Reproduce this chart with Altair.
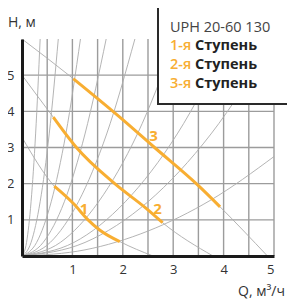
import altair as alt
import pandas as pd

ORANGE = "#F8AE32"
GRID = "#9c9c9c"
CURVE = "#ababab"
FONT = "Open Sans"

# grid / ticks
q_grid = [0.5, 1, 1.5, 2, 2.5, 3, 3.5, 4, 4.5, 5]
h_grid = [1, 2, 3, 4, 5]
x_ticks = [1, 2, 3, 4, 5]
y_ticks = [1, 2, 3, 4, 5]

# gray system curves (from origin)
sys_q = [
    [0, 0.09, 0.18, 0.27, 0.36],
    [0, 0.18, 0.36, 0.54, 0.72],
    [0, 0.29, 0.58, 0.87, 1.16],
    [0, 0.42, 0.84, 1.25, 1.67],
    [0, 0.56, 1.12, 1.68, 2.24],
    [0, 0.76, 1.52, 2.29, 3.05],
    [0, 1.03, 2.05, 3.08, 4.10],
    [0, 1.25, 2.50, 3.75, 5.00],
    [0, 1.25, 2.50, 3.75, 5.00],
]
sys_h = [
    [0, 0.375, 1.5, 3.375, 6],
    [0, 0.375, 1.5, 3.375, 6],
    [0, 0.375, 1.5, 3.375, 6],
    [0, 0.375, 1.5, 3.375, 6],
    [0, 0.375, 1.5, 3.375, 6],
    [0, 0.375, 1.5, 3.375, 6],
    [0, 0.375, 1.5, 3.375, 6],
    [0, 0.375, 1.5, 3.375, 6],
    [0, 0.17, 0.69, 1.55, 2.75],
]

# pump curves (gray full extent)
pump_q = [
    [0, 0.64, 1.02, 1.31, 1.54, 1.94, 2.60],
    [0, 0.62, 1.08, 1.84, 2.47, 2.79, 3.79],
    [0, 1.02, 1.94, 2.63, 3.49, 3.93, 4.87],
]
pump_h = [
    [3.28, 1.93, 1.45, 1.00, 0.72, 0.40, 0],
    [5.00, 3.84, 3.00, 2.00, 1.31, 0.92, 0],
    [6.00, 4.90, 3.84, 3.00, 1.96, 1.36, 0],
]
# orange working part = points 1..5 of each pump curve
work_from, work_to = 1, 5

step_names = ["1", "2", "3"]
label_q = [1.23, 2.69, 2.61]
label_h = [1.31, 1.31, 3.33]

legend_title = "UPH 20-60 130"
legend_steps = ["1-я", "2-я", "3-я"]
legend_word = "Ступень"

rows = []
for i, (qs, hs) in enumerate(zip(sys_q, sys_h)):
    for j, (q, h) in enumerate(zip(qs, hs)):
        rows.append({"id": f"s{i}", "Q": q, "H": h, "o": j})
sys_df = pd.DataFrame(rows)

rows = []
for i, (qs, hs) in enumerate(zip(pump_q, pump_h)):
    for j, (q, h) in enumerate(zip(qs, hs)):
        rows.append({"id": f"p{i}", "Q": q, "H": h, "o": j})
pump_df = pd.DataFrame(rows)

rows = []
for i, (qs, hs) in enumerate(zip(pump_q, pump_h)):
    for j in range(work_from, work_to + 1):
        rows.append({"id": f"w{i}", "Q": qs[j], "H": hs[j], "o": j})
work_df = pd.DataFrame(rows)

xs = alt.Scale(domain=[0, 5], nice=False, zero=True)
ys = alt.Scale(domain=[0, 6], nice=False, zero=True)

x_axis = alt.Axis(values=x_ticks, grid=False, ticks=False, domainColor="#1a1a1a",
                  domainWidth=3, labelPadding=7, labelFontSize=13, labelColor="#333",
                  labelFont=FONT, title=None, zindex=1, format="d")
y_axis = alt.Axis(values=y_ticks, grid=False, ticks=False, domainColor="#1a1a1a",
                  domainWidth=3, labelPadding=8, labelFontSize=13, labelColor="#333",
                  labelFont=FONT, title=None, zindex=1, format="d")

vgrid = alt.Chart(pd.DataFrame({"Q": q_grid})).mark_rule(color=GRID, strokeWidth=1.4).encode(
    x=alt.X("Q:Q", scale=xs, axis=x_axis),
    y=alt.value(0), y2=alt.value(217))
hgrid = alt.Chart(pd.DataFrame({"H": h_grid})).mark_rule(color=GRID, strokeWidth=1.4).encode(
    y=alt.Y("H:Q", scale=ys, axis=y_axis),
    x=alt.value(0), x2=alt.value(252))

sys_lines = alt.Chart(sys_df).mark_line(color=CURVE, strokeWidth=0.9, interpolate="monotone", clip=True).encode(
    x=alt.X("Q:Q", scale=xs), y=alt.Y("H:Q", scale=ys), detail="id:N", order="o:Q")
pump_lines = alt.Chart(pump_df).mark_line(color=CURVE, strokeWidth=0.9, interpolate="monotone", clip=True).encode(
    x=alt.X("Q:Q", scale=xs), y=alt.Y("H:Q", scale=ys), detail="id:N", order="o:Q")
work_lines = alt.Chart(work_df).mark_line(color=ORANGE, strokeWidth=3, interpolate="monotone").encode(
    x=alt.X("Q:Q", scale=xs), y=alt.Y("H:Q", scale=ys), detail="id:N", order="o:Q")

labels = alt.Chart(pd.DataFrame({"t": step_names, "Q": label_q, "H": label_h})).mark_text(
    color=ORANGE, fontSize=15, fontWeight="bold", font=FONT).encode(
    x=alt.X("Q:Q", scale=xs), y=alt.Y("H:Q", scale=ys), text="t:N")

legend_box = alt.Chart(pd.DataFrame({"a": [0]})).mark_rect(
    fill="white", stroke="#2a2a2a", strokeWidth=2).encode(
    x=alt.value(136), x2=alt.value(300), y=alt.value(-32), y2=alt.value(65))

one = pd.DataFrame({"a": [0]})
legend_layers = [
    alt.Chart(one).mark_text(text=legend_title, align="left", baseline="alphabetic",
                             fontSize=14.5, color="#444", font=FONT).encode(
        x=alt.value(148), y=alt.value(-7))
]
for k, s in enumerate(legend_steps):
    yy = 11 + k * 19
    legend_layers.append(alt.Chart(one).mark_text(text=s, align="left", baseline="alphabetic",
                                                  fontSize=14.5, fontWeight=600, color=ORANGE, font=FONT).encode(
        x=alt.value(148), y=alt.value(yy)))
    legend_layers.append(alt.Chart(one).mark_text(text=legend_word, align="left", baseline="alphabetic",
                                                  fontSize=14.5, fontWeight="bold", color="#222", font=FONT).encode(
        x=alt.value(173), y=alt.value(yy)))

h_title = alt.Chart(one).mark_text(text="H, м", align="left", baseline="alphabetic",
                                   fontSize=14, color="#333", font=FONT).encode(
    x=alt.value(-14), y=alt.value(-12))
q_title = alt.Chart(one).mark_text(text="Q, м³/ч", align="right", baseline="alphabetic",
                                   fontSize=14, color="#333", font=FONT).encode(
    x=alt.value(263), y=alt.value(257))

chart = alt.layer(vgrid, hgrid, sys_lines, pump_lines, work_lines, labels,
                  legend_box, *legend_layers, h_title, q_title).properties(
    width=252, height=217,
    padding={"left": 14, "top": 31, "right": 13, "bottom": 44},
    autosize="none",
).configure_view(stroke=None)

chart.save("out.html", embed_options={"renderer": "svg", "actions": False})
